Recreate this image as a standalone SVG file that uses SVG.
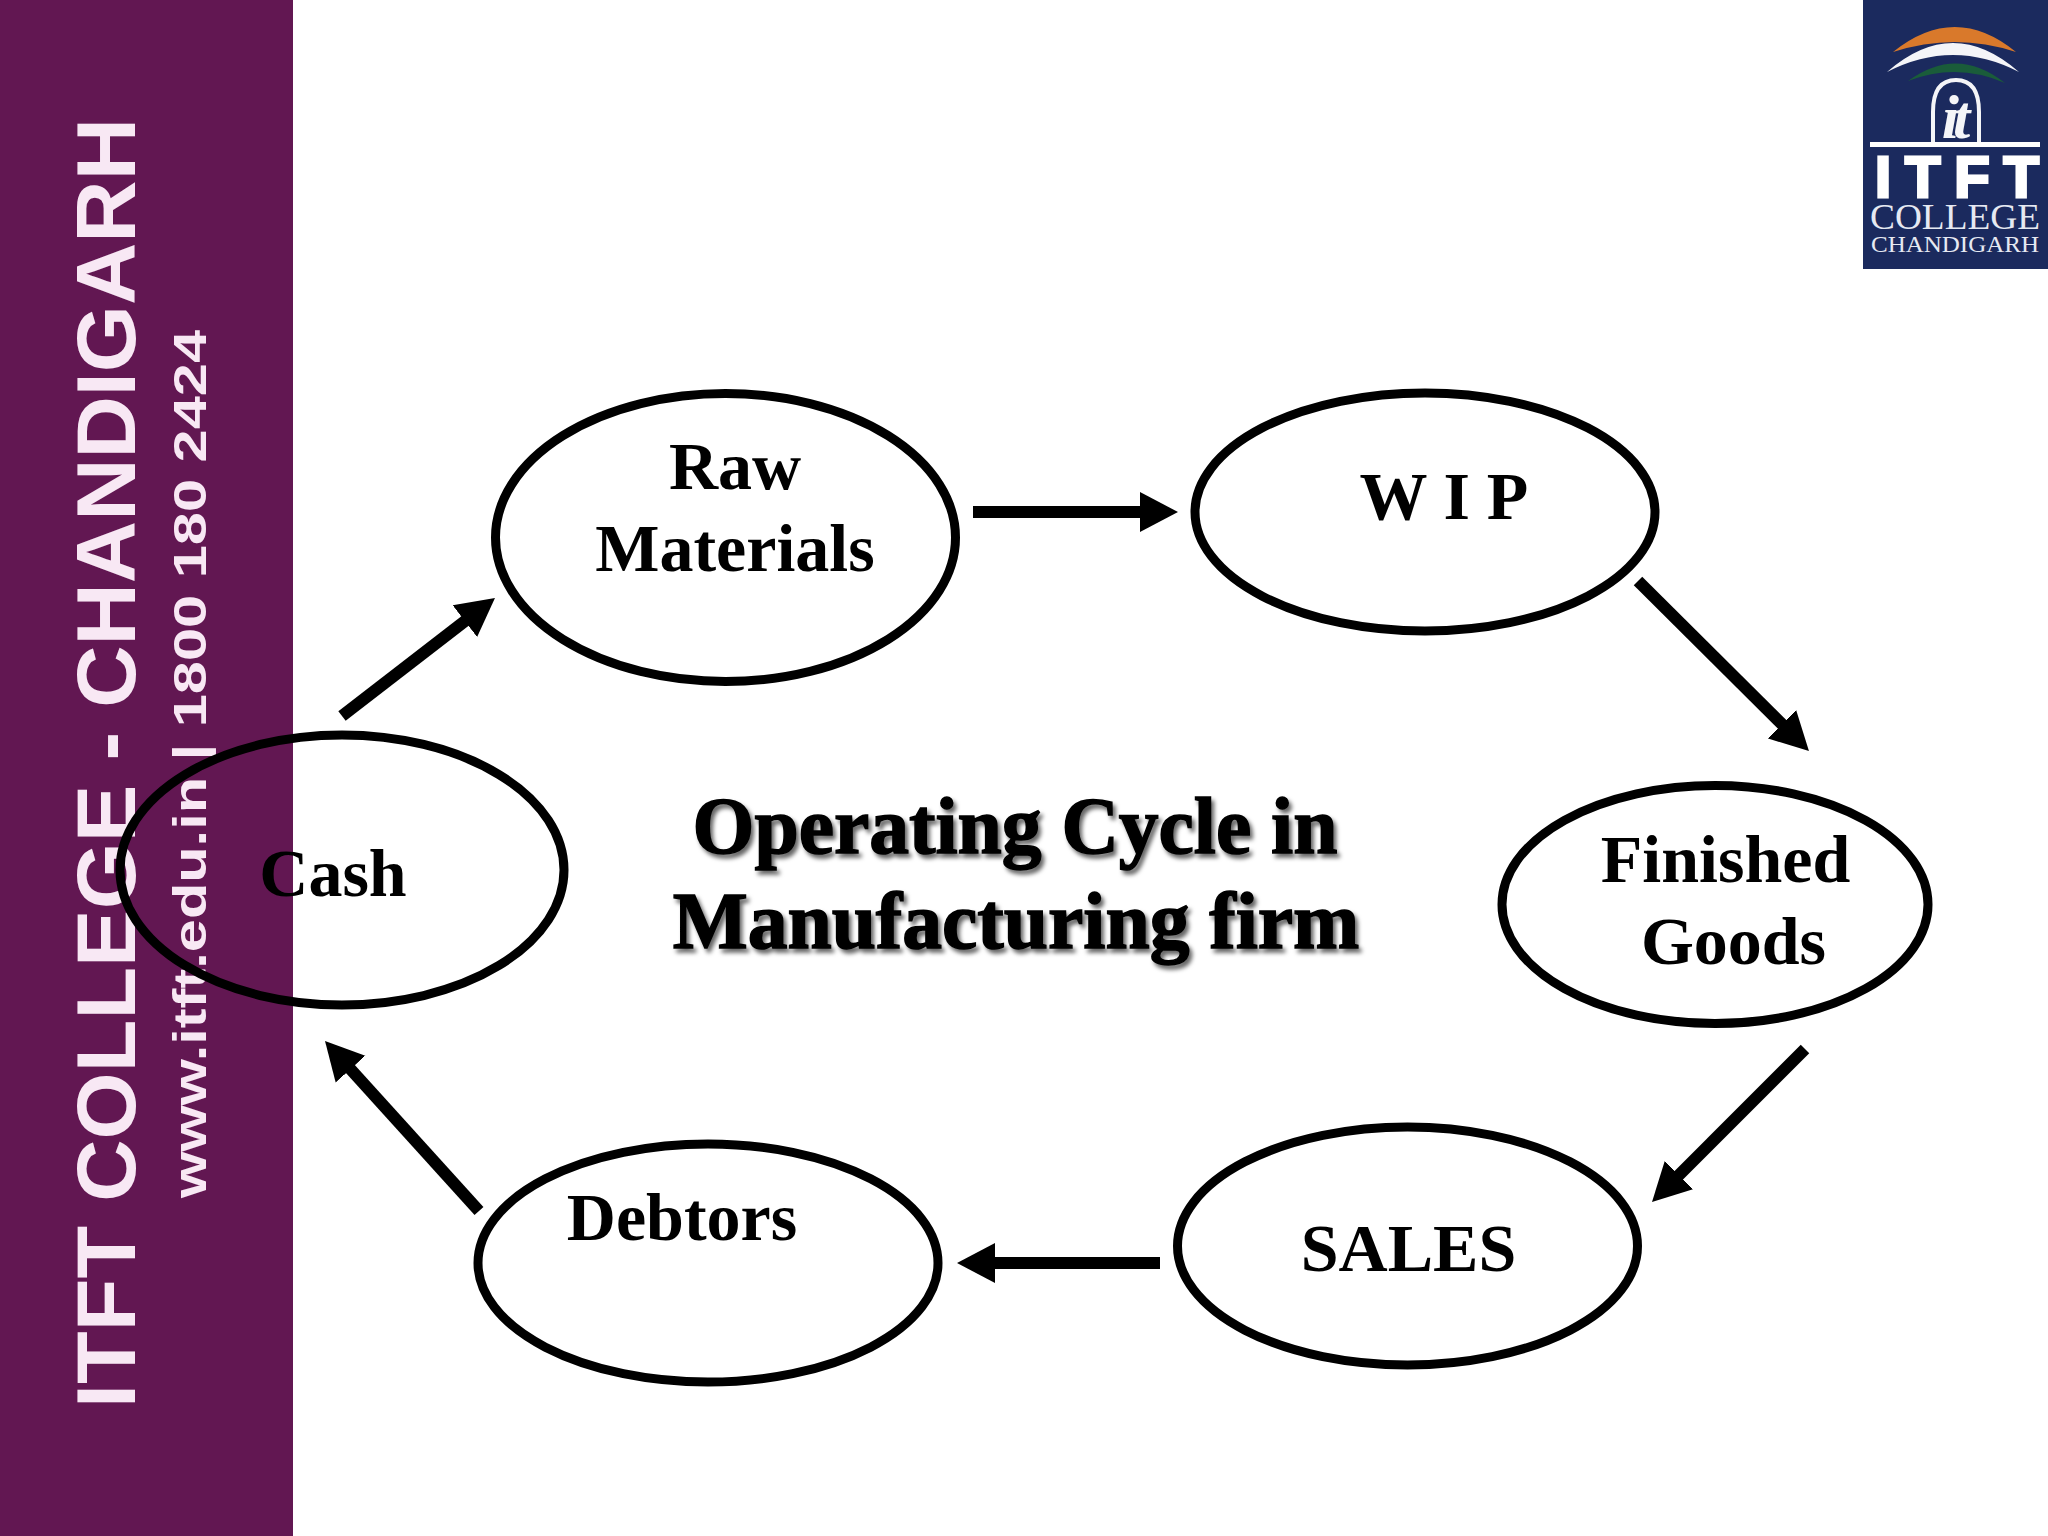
<svg xmlns="http://www.w3.org/2000/svg" width="2048" height="1536" viewBox="0 0 2048 1536">
<style>
.node{fill:none;stroke:#000;stroke-width:9}
.lbl{font-family:"Liberation Serif","Times New Roman",serif;font-weight:bold;font-size:68px;fill:#000;text-anchor:middle}
.title{font-family:"Liberation Serif","Times New Roman",serif;font-weight:bold;font-size:79.500px;fill:#000;text-anchor:middle;stroke:#000;stroke-width:1.5;filter:url(#sh)}
.side{font-family:"Liberation Sans",Arial,sans-serif;font-weight:bold;fill:#f8e8f4}
.conn{stroke:#000;stroke-width:12;fill:none;marker-end:url(#ah)}
</style>
<defs>
<marker id="ah" markerUnits="userSpaceOnUse" markerWidth="40" markerHeight="42" viewBox="0 0 40 42" refX="10" refY="21" orient="auto"><path d="M0 1L38 21L0 41Z" fill="#000"/></marker>
<filter id="sh" x="-5%" y="-10%" width="110%" height="130%"><feDropShadow dx="3" dy="4" stdDeviation="2.2" flood-color="#000" flood-opacity=".6"/></filter>
</defs>
<rect width="2048" height="1536" fill="#fff"/>
<g id="sidebar">
<rect x="0" y="0" width="293" height="1536" fill="#621752"/>
<text class="side" transform="translate(135 1408) rotate(-90)" font-size="84" textLength="1290" lengthAdjust="spacingAndGlyphs">ITFT COLLEGE - CHANDIGARH</text>
<text class="side" transform="translate(206 1198) rotate(-90)" font-size="47" textLength="868" lengthAdjust="spacingAndGlyphs">www.itft.edu.in | 1800 180 2424</text>
</g>
<g id="logo">
<rect x="1863" y="0" width="185" height="269" fill="#1b2a5e"/>
<path d="M1893 52Q1955 2 2016 52Q1955 32 1893 52Z" fill="#d9792b"/>
<path d="M1887 72Q1953 14 2019 72Q1953 38 1887 72Z" fill="#f4f5f8"/>
<path d="M1908 81Q1957 45 2005 83Q1957 62 1908 81Z" fill="#1a5c3a"/>
<path d="M1933 143V112Q1933 80 1956 80Q1979 80 1979 112V143" fill="none" stroke="#f4f5f8" stroke-width="4"/>
<text x="1953" y="138" font-family="'Liberation Serif',serif" font-style="italic" font-weight="bold" font-size="62" letter-spacing="-6" fill="#f4f5f8" text-anchor="middle">it</text>
<rect x="1870" y="142" width="170" height="5" fill="#fff"/>
<text x="1957" y="197" font-family="'Liberation Sans',sans-serif" font-weight="bold" font-size="58" fill="#fff" stroke="#fff" stroke-width="3" text-anchor="middle" textLength="164" lengthAdjust="spacing">ITFT</text>
<text x="1955" y="229" font-family="'Liberation Serif',serif" font-size="36" fill="#e6e9f2" text-anchor="middle" textLength="170" lengthAdjust="spacingAndGlyphs">COLLEGE</text>
<text x="1955" y="252" font-family="'Liberation Serif',serif" font-size="23" fill="#e6e9f2" text-anchor="middle" textLength="168" lengthAdjust="spacingAndGlyphs">CHANDIGARH</text>
</g>
<g id="connectors">
<line class="conn" x1="342" y1="716" x2="472.800" y2="615.100"/>
<line class="conn" x1="973" y1="512" x2="1150" y2="512"/>
<line class="conn" x1="1638" y1="581" x2="1789.100" y2="731.300"/>
<line class="conn" x1="1805" y1="1049" x2="1671.800" y2="1182.200"/>
<line class="conn" x1="1160" y1="1263" x2="985" y2="1263"/>
<line class="conn" x1="479" y1="1211" x2="343.800" y2="1061.700"/>
</g>
<g id="raw"><ellipse class="node" cx="725.500" cy="537.500" rx="230" ry="144"/><text class="lbl" x="735" y="489">Raw</text><text class="lbl" x="735" y="571">Materials</text></g>
<g id="wip"><ellipse class="node" cx="1425" cy="512" rx="230" ry="119"/><text class="lbl" x="1444" y="519">W I P</text></g>
<g id="finished"><ellipse class="node" cx="1715" cy="904.500" rx="213" ry="119"/><text class="lbl" x="1725.500" y="881.500">Finished</text><text class="lbl" x="1733.500" y="963.500">Goods</text></g>
<g id="sales"><ellipse class="node" cx="1407.500" cy="1246" rx="230" ry="119"/><text class="lbl" x="1408.500" y="1270.500">SALES</text></g>
<g id="debtors"><ellipse class="node" cx="708" cy="1263" rx="230" ry="119"/><text class="lbl" x="682" y="1239.500">Debtors</text></g>
<g id="cash"><ellipse class="node" cx="342" cy="870" rx="222" ry="135"/><text class="lbl" x="333" y="896">Cash</text></g>
<g id="title"><text class="title" x="1015" y="852.500">Operating Cycle in</text><text class="title" x="1016" y="947.500">Manufacturing firm</text></g>
</svg>
